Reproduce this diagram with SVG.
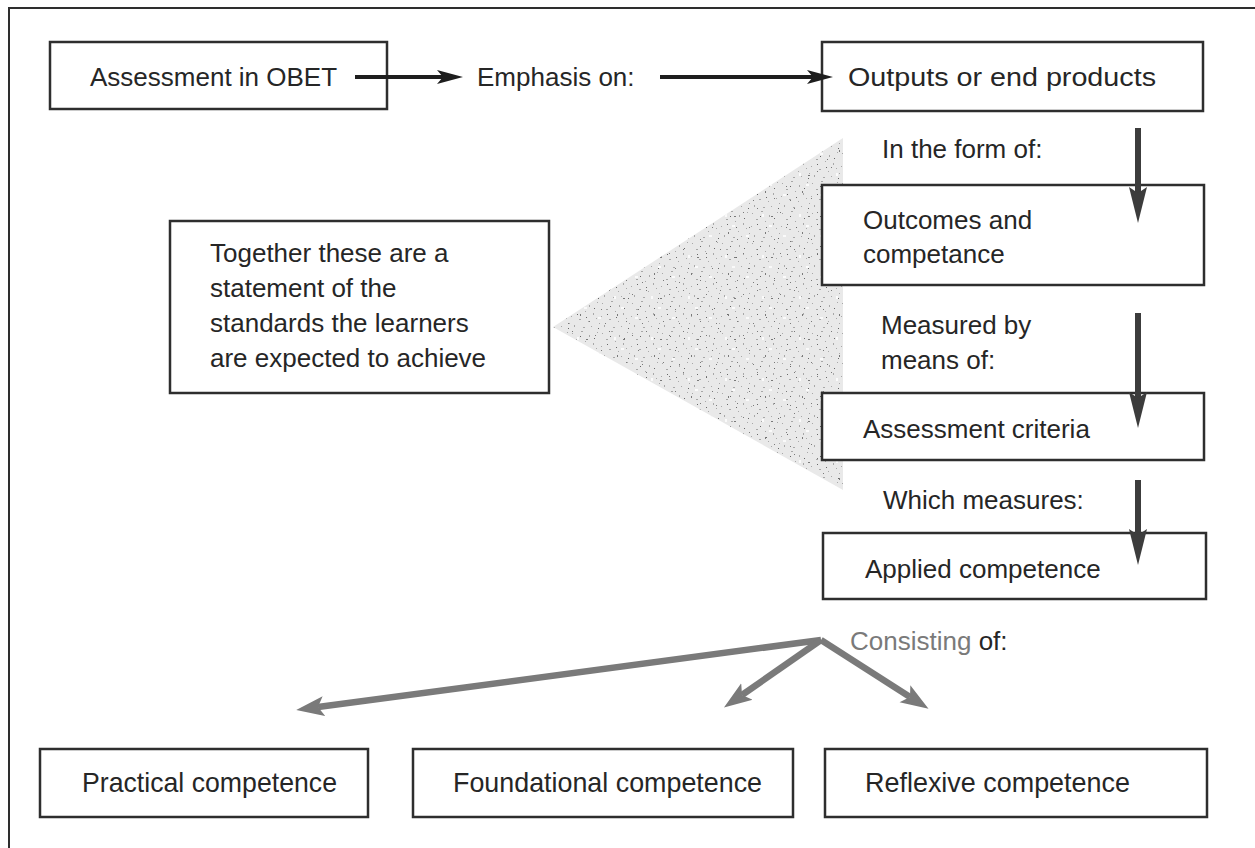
<svg xmlns="http://www.w3.org/2000/svg" width="1255" height="848" viewBox="0 0 1255 848">
<style>
.box{fill:#fff;stroke:#2e2e2e;stroke-width:2.5}
.t{font-family:"Liberation Sans",Arial,sans-serif;font-size:26px;fill:#262626}
.tb{font-family:"Liberation Sans",Arial,sans-serif;font-size:28px;fill:#262626}
.blk{stroke:#1e1e1e;stroke-width:4;fill:none}
.dn{stroke:#3c3c3c;stroke-width:6;fill:none}
.gr{stroke:#7a7a7a;stroke-width:6.5;fill:none}
</style>
<defs>
<pattern id="stip" width="30" height="30" patternUnits="userSpaceOnUse">
<rect width="30" height="30" fill="#e9e9e9"/>
<g fill="#a8a8a8">
<rect x="2" y="3" width="1" height="1"/><rect x="11" y="1" width="2" height="1"/><rect x="19" y="5" width="1" height="2"/>
<rect x="27" y="2" width="1" height="1"/><rect x="6" y="9" width="2" height="1"/><rect x="15" y="11" width="1" height="1"/>
<rect x="23" y="13" width="1" height="2"/><rect x="1" y="16" width="1" height="1"/><rect x="9" y="19" width="2" height="1"/>
<rect x="18" y="21" width="1" height="1"/><rect x="26" y="18" width="1" height="1"/><rect x="4" y="25" width="1" height="2"/>
<rect x="13" y="27" width="2" height="1"/><rect x="21" y="26" width="1" height="1"/><rect x="29" y="23" width="1" height="1"/>
</g>
<g fill="#666">
<rect x="7" y="14" width="1" height="1"/><rect x="24" y="8" width="1" height="1"/><rect x="16" y="17" width="1" height="1"/>
<rect x="28" y="28" width="1" height="1"/><rect x="10" y="6" width="1" height="1"/>
</g>
</pattern>
<pattern id="stip2" width="37" height="41" patternUnits="userSpaceOnUse">
<g fill="#7a7a7a">
<rect x="3" y="7" width="1" height="1"/><rect x="17" y="3" width="1" height="1"/><rect x="31" y="11" width="2" height="1"/>
<rect x="9" y="22" width="1" height="1"/><rect x="25" y="27" width="1" height="2"/><rect x="13" y="36" width="1" height="1"/>
<rect x="34" y="34" width="1" height="1"/>
</g>
<g fill="#fafafa">
<rect x="6" y="30" width="3" height="2"/><rect x="22" y="9" width="2" height="3"/><rect x="29" y="20" width="3" height="2"/>
</g>
</pattern>
<marker id="mBlk" markerUnits="userSpaceOnUse" markerWidth="28" markerHeight="18" refX="6" refY="9" orient="auto">
<path d="M0,2 L26,9 L0,16 L6,9 z" fill="#1e1e1e"/>
</marker>
<marker id="mDn" markerUnits="userSpaceOnUse" markerWidth="38" markerHeight="20" refX="6" refY="10" orient="auto">
<path d="M0,1 L36,10 L0,19 L6,10 z" fill="#3c3c3c"/>
</marker>
<marker id="mGr" markerUnits="userSpaceOnUse" markerWidth="30" markerHeight="22" refX="6" refY="11" orient="auto">
<path d="M0,1 L28,11 L0,21 L6,11 z" fill="#7a7a7a"/>
</marker>
</defs>
<rect width="1255" height="848" fill="#fff"/>
<path d="M9,848 L9,8 L1255,8" fill="none" stroke="#2e2e2e" stroke-width="2"/>
<g id="shade">
<polygon points="553,327 843,138 843,490" fill="url(#stip)"/>
<polygon points="553,327 843,138 843,490" fill="url(#stip2)"/>
</g>
<g id="n-obet"><rect class="box" x="50" y="42" width="337" height="67"/><text class="t" x="90" y="86">Assessment in OBET</text></g>
<g id="n-emphasis"><text class="t" x="477" y="86">Emphasis on:</text></g>
<g id="n-outputs"><rect class="box" x="822" y="42" width="381" height="69"/><text class="t" x="848" y="86" textLength="308" lengthAdjust="spacingAndGlyphs">Outputs or end products</text></g>
<g id="n-formof"><text class="t" x="882" y="158">In the form of:</text></g>
<g id="n-outcomes"><rect class="box" x="822" y="185" width="382" height="100"/><text class="t" x="863" y="229">Outcomes and</text><text class="t" x="863" y="263">competance</text></g>
<g id="n-measured"><text class="t" x="881" y="334">Measured by</text><text class="t" x="881" y="369">means of:</text></g>
<g id="n-criteria"><rect class="box" x="822" y="393" width="382" height="67"/><text class="t" x="863" y="438">Assessment criteria</text></g>
<g id="n-which"><text class="t" x="883" y="509">Which measures:</text></g>
<g id="n-applied"><rect class="box" x="823" y="533" width="383" height="66"/><text class="t" x="865" y="578">Applied competence</text></g>
<g id="n-consisting"><text class="t" x="850" y="650"><tspan fill="#7a7a7a">Consisting</tspan> of:</text></g>
<g id="n-together"><rect class="box" x="170" y="221" width="379" height="172"/>
<text class="t" x="210" y="262">Together these are a</text>
<text class="t" x="210" y="297">statement of the</text>
<text class="t" x="210" y="332">standards the learners</text>
<text class="t" x="210" y="367">are expected to achieve</text></g>
<g id="n-practical"><rect class="box" x="40" y="749" width="328" height="68"/><text class="tb" x="82" y="792" textLength="255" lengthAdjust="spacingAndGlyphs">Practical competence</text></g>
<g id="n-foundational"><rect class="box" x="413" y="749" width="380" height="68"/><text class="tb" x="453" y="792" textLength="309" lengthAdjust="spacingAndGlyphs">Foundational competence</text></g>
<g id="n-reflexive"><rect class="box" x="825" y="749" width="382" height="68"/><text class="tb" x="865" y="792" textLength="265" lengthAdjust="spacingAndGlyphs">Reflexive competence</text></g>
<g id="connectors">
<path class="blk" d="M355,77 L443,77" marker-end="url(#mBlk)"/>
<path class="blk" d="M660,77 L813,77" marker-end="url(#mBlk)"/>
<path class="dn" d="M1138,128 L1138,193" marker-end="url(#mDn)"/>
<path class="dn" d="M1138,313 L1138,398" marker-end="url(#mDn)"/>
<path class="dn" d="M1138,480 L1138,535" marker-end="url(#mDn)"/>
<path class="gr" d="M821,640 L318,707" marker-end="url(#mGr)"/>
<path class="gr" d="M821,640 L742,695" marker-end="url(#mGr)"/>
<path class="gr" d="M821,640 L910,697" marker-end="url(#mGr)"/>
</g>
</svg>
